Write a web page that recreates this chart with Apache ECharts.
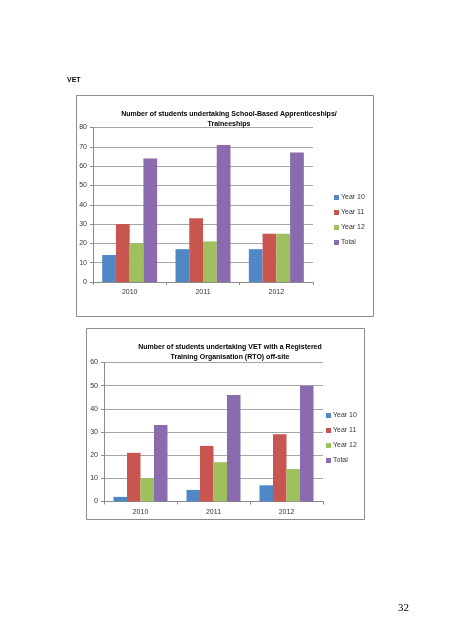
<!DOCTYPE html>
<html><head><meta charset="utf-8">
<script src="https://cdn.jsdelivr.net/npm/echarts@6/dist/echarts.min.js"></script>
<style>html,body{margin:0;padding:0;background:#fff}#c{width:452px;height:640px}</style>
</head><body><div id="c"></div>
<script>
const categories = ['2010', '2011', '2012'];
const seriesNames = ['Year 10', 'Year 11', 'Year 12', 'Total'];
// Chart 1: School-Based Apprenticeships/Traineeships
const sbatYear10 = [14, 17, 17];
const sbatYear11 = [30, 33, 25];
const sbatYear12 = [20, 21, 25];
const sbatTotal = [64, 71, 67];
// Chart 2: VET with RTO off-site
const rtoYear10 = [2, 5, 7];
const rtoYear11 = [21, 24, 29];
const rtoYear12 = [10, 17, 14];
const rtoTotal = [33, 46, 50];
const yTicks1 = [0, 10, 20, 30, 40, 50, 60, 70, 80];
const yTicks2 = [0, 10, 20, 30, 40, 50, 60];

const colors = ['#5088C6', '#C8554F', '#9FC05F', '#8A6CAE'];
const FONT = 'Liberation Sans';
const chart = echarts.init(document.getElementById('c'), null, {renderer: 'canvas'});

function yAx(idx, ticks) {
  return {
    type: 'value', gridIndex: idx, min: ticks[0], max: ticks[ticks.length - 1], interval: ticks[1] - ticks[0],
    axisLine: {show: true, lineStyle: {color: '#8c8c8c', width: 1}},
    axisTick: {show: true, inside: false, length: 3, lineStyle: {color: '#8c8c8c'}},
    axisLabel: {color: '#333', fontFamily: FONT, fontSize: 7, margin: 6},
    splitLine: {show: true, lineStyle: {color: '#a6a6a6', width: 1}}
  };
}
function xAx(idx) {
  return {
    type: 'category', gridIndex: idx, data: categories,
    axisLine: {show: true, lineStyle: {color: '#8c8c8c', width: 1}},
    axisTick: {show: true, alignWithLabel: false, length: 3, lineStyle: {color: '#8c8c8c'}},
    axisLabel: {color: '#333', fontFamily: FONT, fontSize: 7, margin: 7}
  };
}
const data1 = [sbatYear10, sbatYear11, sbatYear12, sbatTotal];
const data2 = [rtoYear10, rtoYear11, rtoYear12, rtoTotal];
const series = [];
seriesNames.forEach((n, i) => {
  series.push({name: n, type: 'bar', xAxisIndex: 0, yAxisIndex: 0, data: data1[i], barGap: '0%', barCategoryGap: '25%', itemStyle: {color: colors[i]}, silent: true});
});
seriesNames.forEach((n, i) => {
  series.push({name: n, type: 'bar', xAxisIndex: 1, yAxisIndex: 1, data: data2[i], barGap: '0%', barCategoryGap: '26%', itemStyle: {color: colors[i]}, silent: true});
});
function legend(top, left) {
  return {
    data: seriesNames, orient: 'vertical', left: left, top: top, icon: 'rect', padding: 0,
    itemWidth: 5, itemHeight: 5, itemGap: 7,
    textStyle: {fontFamily: FONT, fontSize: 7, color: '#333', padding: [0, 0, 0, -3], lineHeight: 8},
    selectedMode: false
  };
}
chart.setOption({
  backgroundColor: '#fff',
  animation: false,
  title: [
    {text: 'Number of students undertaking School-Based Apprenticeships/\nTraineeships', left: 224, top: 104, textAlign: 'center',
     textStyle: {fontFamily: FONT, fontSize: 7, fontWeight: 'bold', color: '#000', lineHeight: 10}},
    {text: 'Number of students undertaking VET with a Registered\nTraining Organisation (RTO) off-site', left: 225, top: 337, textAlign: 'center',
     textStyle: {fontFamily: FONT, fontSize: 7, fontWeight: 'bold', color: '#000', lineHeight: 10}}
  ],
  legend: [legend(193.5, 334), legend(411.5, 326)],
  grid: [
    {left: 93, top: 127.5, width: 220, height: 154.5},
    {left: 104, top: 362.5, width: 219, height: 139}
  ],
  xAxis: [xAx(0), xAx(1)],
  yAxis: [yAx(0, yTicks1), yAx(1, yTicks2)],
  series: series,
  graphic: [
    {type: 'rect', shape: {x: 76.5, y: 95.5, width: 297, height: 221}, style: {fill: null, stroke: '#8c8c8c', lineWidth: 1}, silent: true},
    {type: 'rect', shape: {x: 86.5, y: 328.5, width: 278, height: 191}, style: {fill: null, stroke: '#8c8c8c', lineWidth: 1}, silent: true},
    {type: 'text', left: 67, top: 77, style: {text: 'VET', font: 'bold 7px "Liberation Sans"', fill: '#000'}},
    {type: 'text', left: 398, top: 603, style: {text: '32', font: '11px "Liberation Serif"', fill: '#000'}}
  ]
});
</script></body></html>
